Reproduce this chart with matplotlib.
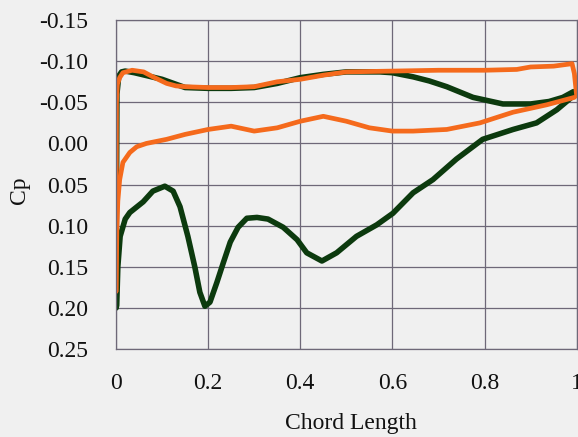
import matplotlib
matplotlib.use("Agg")
import matplotlib.pyplot as plt

# Green series (upper and lower surfaces)
green_upper_x = [0.0, 0.002, 0.006, 0.012, 0.02, 0.04, 0.07, 0.10, 0.13, 0.15, 0.20, 0.25, 0.30, 0.35,
                 0.40, 0.45, 0.50, 0.573, 0.60, 0.645, 0.68, 0.718, 0.775, 0.84, 0.90, 0.94, 0.97, 0.993]
green_upper_y = [0.20, -0.06, -0.082, -0.087, -0.088, -0.086, -0.082, -0.078, -0.072, -0.068, -0.067,
                 -0.067, -0.068, -0.073, -0.080, -0.084, -0.087, -0.087, -0.086, -0.081, -0.076, -0.069,
                 -0.056, -0.048, -0.048, -0.051, -0.056, -0.063]
green_lower_x = [0.0, 0.0015, 0.004, 0.009, 0.02, 0.03, 0.059, 0.08, 0.106, 0.124, 0.139, 0.156, 0.171,
                 0.182, 0.193, 0.204, 0.219, 0.233, 0.248, 0.265, 0.284, 0.306, 0.33, 0.363, 0.393, 0.414,
                 0.447, 0.479, 0.522, 0.566, 0.601, 0.645, 0.688, 0.739, 0.796, 0.862, 0.913, 0.957, 0.993]
green_lower_y = [0.20, 0.197, 0.15, 0.113, 0.092, 0.084, 0.071, 0.058, 0.052, 0.058, 0.077, 0.113, 0.150,
                 0.181, 0.198, 0.193, 0.169, 0.145, 0.120, 0.102, 0.091, 0.090, 0.092, 0.102, 0.117, 0.133,
                 0.143, 0.133, 0.113, 0.099, 0.085, 0.060, 0.044, 0.019, -0.005, -0.017, -0.025, -0.041,
                 -0.058]

# Orange series (upper and lower surfaces)
orange_upper_x = [0.0, 0.001, 0.003, 0.008, 0.015, 0.035, 0.06, 0.08, 0.11, 0.13, 0.15, 0.20, 0.25,
                  0.30, 0.35, 0.40, 0.45, 0.50, 0.60, 0.70, 0.80, 0.87, 0.90, 0.95, 0.99, 0.995, 1.0]
orange_upper_y = [0.18, -0.05, -0.072, -0.080, -0.086, -0.089, -0.087, -0.081, -0.073, -0.070, -0.069,
                  -0.068, -0.068, -0.069, -0.075, -0.078, -0.083, -0.087, -0.088, -0.089, -0.089, -0.090,
                  -0.093, -0.094, -0.097, -0.085, -0.058]
orange_lower_x = [0.0, 0.002, 0.004, 0.008, 0.015, 0.030, 0.045, 0.066, 0.11, 0.15, 0.20, 0.25, 0.30,
                  0.35, 0.40, 0.45, 0.50, 0.55, 0.60, 0.645, 0.718, 0.79, 0.862, 0.935, 0.995]
orange_lower_y = [0.18, 0.10, 0.07, 0.044, 0.023, 0.011, 0.004, 0.000, -0.005, -0.011, -0.017, -0.021,
                  -0.015, -0.019, -0.027, -0.033, -0.027, -0.019, -0.015, -0.015, -0.017, -0.025, -0.038,
                  -0.047, -0.056]

x_ticks = [0, 0.2, 0.4, 0.6, 0.8, 1]
x_tick_labels = ["0", "0.2", "0.4", "0.6", "0.8", "1"]
y_ticks = [-0.15, -0.10, -0.05, 0.00, 0.05, 0.10, 0.15, 0.20, 0.25]
y_tick_labels = ["-0.15", "-0.10", "-0.05", "0.00", "0.05", "0.10", "0.15", "0.20", "0.25"]

plt.rcParams['font.family'] = ['Liberation Serif', 'DejaVu Serif']

bg = "#f0f0f0"
fig = plt.figure(figsize=(5.78, 4.37), dpi=100, facecolor=bg)
ax = fig.add_axes([0.2007, 0.2014, 0.797, 0.7526])
ax.set_facecolor(bg)

green = "#0c3a0e"
orange = "#f56a1c"
kw = dict(solid_capstyle="round", solid_joinstyle="round")
ax.plot(green_upper_x, green_upper_y, color=green, lw=4.0, **kw)
ax.plot(green_lower_x, green_lower_y, color=green, lw=4.0, **kw)
ax.plot(orange_upper_x, orange_upper_y, color=orange, lw=3.4, **kw)
ax.plot(orange_lower_x, orange_lower_y, color=orange, lw=3.4, **kw)

ax.set_xlim(0, 1)
ax.set_ylim(0.25, -0.15)
ax.set_xticks(x_ticks)
ax.set_xticklabels(x_tick_labels)
ax.set_yticks(y_ticks)
ax.set_yticklabels(y_tick_labels)
ax.tick_params(axis="both", length=0, labelsize=17, colors="#111111")
ax.tick_params(axis="x", pad=17)
ax.tick_params(axis="y", pad=20)
ax.grid(True, color="#6e6878", lw=0.9)
ax.set_axisbelow(True)
for s in ax.spines.values():
    s.set_color("#6e6878")
    s.set_linewidth(0.9)

ax.set_xlabel("Chord Length", fontsize=17, color="#111111", va="center")
ax.xaxis.set_label_coords(0.51, -0.228)
ax.set_ylabel("Cp", fontsize=17, color="#111111", va="center")
ax.yaxis.set_label_coords(-0.21, 0.483)

fig.savefig("out.png", dpi=100, facecolor=bg)
